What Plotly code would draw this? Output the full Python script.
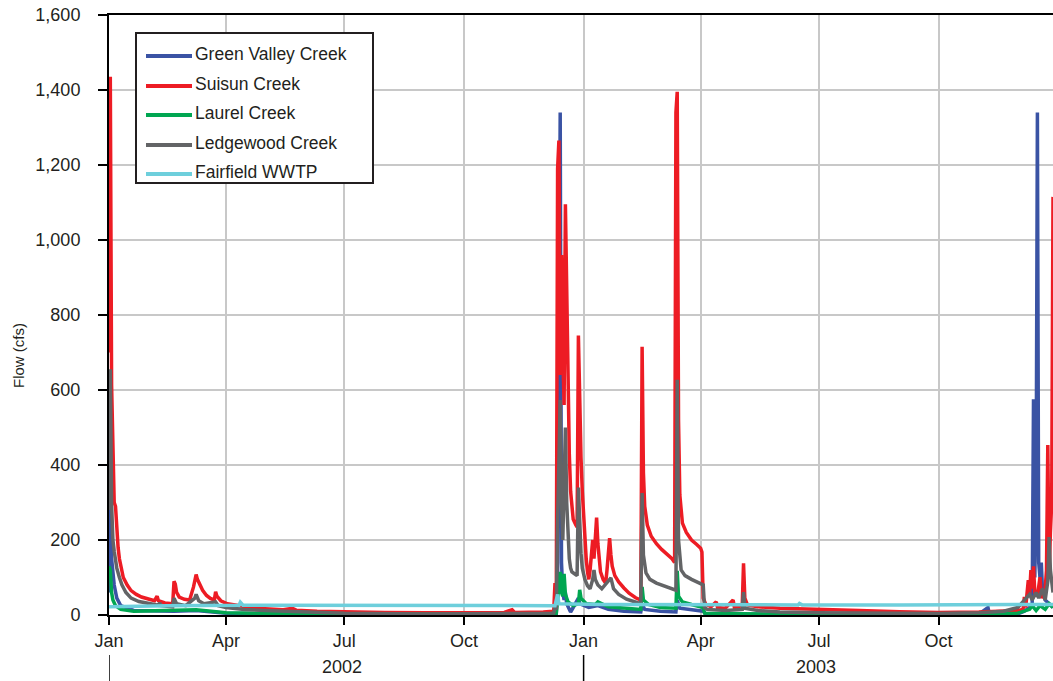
import plotly.graph_objects as go

# ---------------- data ----------------
gv_dates = ["2002-01-01","2002-01-02","2002-01-03","2002-01-04","2002-01-05","2002-01-07","2002-01-10","2002-01-20",
            "2002-02-20","2002-03-09","2002-04-01","2002-05-01","2002-07-01","2002-12-01","2002-12-11","2002-12-12",
            "2002-12-13","2002-12-14","2002-12-15","2002-12-16","2002-12-17","2002-12-18","2002-12-19","2002-12-21",
            "2002-12-22","2002-12-24","2002-12-28","2002-12-29","2003-01-05","2003-01-12","2003-01-20","2003-02-01",
            "2003-02-14","2003-02-15","2003-02-17","2003-03-01","2003-03-13","2003-03-14","2003-03-16","2003-04-03",
            "2003-04-05","2003-05-01","2003-11-01","2003-11-08","2003-11-09","2003-12-01","2003-12-06","2003-12-10",
            "2003-12-12","2003-12-13","2003-12-14","2003-12-15","2003-12-16","2003-12-17","2003-12-18","2003-12-19",
            "2003-12-20","2003-12-22","2003-12-25","2003-12-28"]
gv_flow = [60,300,150,120,80,45,25,12,
           10,12,5,3,1,1,3,100,
           600,1340,140,60,40,60,30,15,
           8,20,45,30,20,25,15,10,
           8,30,15,10,8,40,18,10,
           3,2,2,20,3,3,10,20,
           30,575,100,300,1340,140,100,140,
           60,40,30,20]

su_dates = ["2002-01-01","2002-01-02","2002-01-03","2002-01-04","2002-01-05","2002-01-06","2002-01-07","2002-01-08",
            "2002-01-09","2002-01-10","2002-01-12","2002-01-15","2002-01-18","2002-01-22","2002-01-26","2002-02-01",
            "2002-02-05","2002-02-07","2002-02-08","2002-02-13","2002-02-19","2002-02-20","2002-02-21","2002-02-22",
            "2002-02-24","2002-02-28","2002-03-04","2002-03-07","2002-03-09","2002-03-10","2002-03-12","2002-03-14",
            "2002-03-17","2002-03-20","2002-03-23","2002-03-24","2002-03-25","2002-03-28","2002-04-02","2002-04-10",
            "2002-04-20","2002-05-01","2002-05-15","2002-05-22","2002-05-25","2002-06-10","2002-07-01","2002-08-01",
            "2002-09-01","2002-10-01","2002-11-01","2002-11-07","2002-11-09","2002-12-01","2002-12-09","2002-12-10",
            "2002-12-11","2002-12-12","2002-12-13","2002-12-14","2002-12-15","2002-12-16","2002-12-17","2002-12-18",
            "2002-12-19","2002-12-20","2002-12-21","2002-12-22","2002-12-23","2002-12-24","2002-12-26","2002-12-27",
            "2002-12-28","2002-12-29","2002-12-30","2002-12-31","2003-01-01","2003-01-02","2003-01-03","2003-01-04",
            "2003-01-05","2003-01-06","2003-01-07","2003-01-08","2003-01-09","2003-01-10","2003-01-11","2003-01-12",
            "2003-01-13","2003-01-14","2003-01-16","2003-01-18","2003-01-19","2003-01-20","2003-01-21","2003-01-22",
            "2003-01-23","2003-01-25","2003-01-28","2003-02-01","2003-02-05","2003-02-10","2003-02-14","2003-02-15",
            "2003-02-16","2003-02-17","2003-02-19","2003-02-22","2003-02-26","2003-03-02","2003-03-06","2003-03-10",
            "2003-03-12","2003-03-13","2003-03-14","2003-03-15","2003-03-16","2003-03-18","2003-03-21","2003-03-25",
            "2003-03-29","2003-04-01","2003-04-02","2003-04-03","2003-04-05","2003-04-09","2003-04-13","2003-04-14",
            "2003-04-20","2003-04-26","2003-04-27","2003-05-03","2003-05-04","2003-05-05","2003-05-07","2003-05-15",
            "2003-06-01","2003-07-01","2003-08-01","2003-09-01","2003-10-01","2003-11-01","2003-11-20","2003-12-01",
            "2003-12-05","2003-12-06","2003-12-07","2003-12-09","2003-12-10","2003-12-11","2003-12-12","2003-12-13",
            "2003-12-14","2003-12-16","2003-12-18","2003-12-19","2003-12-22","2003-12-23","2003-12-24","2003-12-25",
            "2003-12-26","2003-12-27","2003-12-28"]
su_flow = [700,1435,612,445,300,290,226,180,
           150,130,100,80,65,55,48,42,
           38,50,38,32,30,90,82,60,
           48,42,40,75,108,95,80,66,
           52,44,40,62,50,38,30,25,
           20,17,14,18,13,10,8,7,
           6,6,7,14,7,8,10,85,
           40,1190,1265,640,960,700,560,1095,
           860,600,430,330,280,255,240,235,
           745,560,420,330,260,200,150,115,
           95,120,175,200,150,200,260,190,
           140,115,95,85,120,160,205,160,
           130,105,88,72,58,46,40,715,
           380,290,240,210,190,175,163,150,
           140,1340,1395,520,320,245,220,200,
           188,178,168,45,28,22,35,20,
           18,40,20,25,138,45,27,22,
           18,14,12,9,7,8,10,12,
           15,48,20,93,55,120,70,130,
           60,50,101,45,70,120,453,110,
           220,300,1115]

la_dates = ["2002-01-01","2002-01-02","2002-01-03","2002-01-04","2002-01-06","2002-01-10","2002-01-20","2002-02-20",
            "2002-03-09","2002-04-01","2002-05-01","2002-06-01","2002-12-01","2002-12-11","2002-12-12","2002-12-13",
            "2002-12-14","2002-12-15","2002-12-16","2002-12-17","2002-12-18","2002-12-20","2002-12-24","2002-12-28",
            "2002-12-29","2002-12-30","2003-01-03","2003-01-10","2003-01-12","2003-01-20","2003-02-01","2003-02-14",
            "2003-02-15","2003-02-16","2003-02-20","2003-03-01","2003-03-13","2003-03-14","2003-03-15","2003-03-18",
            "2003-03-25","2003-04-03","2003-04-04","2003-05-01","2003-06-01","2003-11-01","2003-12-01","2003-12-10",
            "2003-12-12","2003-12-15","2003-12-18","2003-12-22","2003-12-25","2003-12-28"]
la_flow = [130,120,60,40,25,15,10,12,
           14,6,4,2,2,5,40,80,
           115,60,50,110,55,35,25,30,
           67,45,30,28,35,22,18,15,
           75,40,28,20,18,118,50,35,
           28,20,5,4,2,2,5,15,
           25,12,25,15,30,20]

le_dates = ["2002-01-01","2002-01-02","2002-01-03","2002-01-04","2002-01-05","2002-01-06","2002-01-07","2002-01-09",
            "2002-01-11","2002-01-14","2002-01-18","2002-01-24","2002-02-01","2002-02-08","2002-02-09","2002-02-10",
            "2002-02-19","2002-02-20","2002-02-22","2002-03-01","2002-03-08","2002-03-09","2002-03-11","2002-03-15",
            "2002-03-24","2002-03-26","2002-04-01","2002-04-15","2002-05-01","2002-06-01","2002-07-01","2002-09-01",
            "2002-11-01","2002-12-01","2002-12-09","2002-12-10","2002-12-11","2002-12-12","2002-12-13","2002-12-14",
            "2002-12-15","2002-12-16","2002-12-17","2002-12-18","2002-12-19","2002-12-20","2002-12-21","2002-12-22",
            "2002-12-23","2002-12-25","2002-12-27","2002-12-28","2002-12-29","2002-12-30","2002-12-31","2003-01-02",
            "2003-01-04","2003-01-06","2003-01-08","2003-01-09","2003-01-10","2003-01-12","2003-01-15","2003-01-22",
            "2003-01-24","2003-01-28","2003-02-03","2003-02-10","2003-02-14","2003-02-15","2003-02-16","2003-02-18",
            "2003-02-21","2003-02-26","2003-03-05","2003-03-13","2003-03-14","2003-03-15","2003-03-17","2003-03-20",
            "2003-03-25","2003-03-31","2003-04-03","2003-04-04","2003-04-06","2003-04-20","2003-05-03","2003-05-04",
            "2003-05-05","2003-05-15","2003-06-01","2003-07-01","2003-09-01","2003-10-01","2003-11-01","2003-11-20",
            "2003-12-01","2003-12-05","2003-12-10","2003-12-12","2003-12-15","2003-12-17","2003-12-20","2003-12-22",
            "2003-12-24","2003-12-25","2003-12-26","2003-12-28"]
le_flow = [280,655,295,200,170,150,125,100,
           80,60,45,36,30,26,32,25,
           22,45,30,25,45,55,38,30,
           35,25,20,15,12,8,5,3,
           3,4,5,20,15,250,400,573,
           300,200,350,500,300,190,150,125,
           115,110,105,340,245,165,125,95,
           78,70,95,120,95,80,70,99,
           70,55,42,34,30,325,160,112,
           95,85,75,66,627,200,120,105,
           95,85,80,20,15,12,15,61,
           18,12,8,6,4,4,6,10,
           20,35,55,40,60,45,70,40,
           90,208,120,60]

ff_dates = ["2002-01-01","2002-02-15","2002-04-11","2002-04-12","2002-04-14","2002-07-01","2002-10-01","2002-12-10",
            "2002-12-12","2002-12-13","2003-01-15","2003-04-01","2003-06-15","2003-06-16","2003-06-18","2003-09-01",
            "2003-12-01","2003-12-28"]
ff_flow = [22,25,26,34,26,25,25,25,
           55,30,28,27,27,31,27,27,
           28,28]

series_names = ["Green Valley Creek", "Suisun Creek", "Laurel Creek", "Ledgewood Creek", "Fairfield WWTP"]
series_colors = ["#3A53A4", "#ED1C24", "#00A651", "#636466", "#6ECFDC"]

month_ticks = ["2002-01-01","2002-04-01","2002-07-01","2002-10-01",
               "2003-01-01","2003-04-01","2003-07-01","2003-10-01"]
month_labels = ["Jan","Apr","Jul","Oct","Jan","Apr","Jul","Oct"]
year_labels = ["2002", "2003"]
year_centers = ["2002-06-29", "2003-06-29"]
year_starts = ["2002-01-01", "2003-01-01"]

# ---------------- figure ----------------
W, H = 1053, 681
L, R, T, B = 109, 0, 15, 66
PW, PH = W - L - R, H - T - B

def px(x):   # pixel x -> paper
    return (x - L) / PW

def py(y):   # pixel y -> paper
    return (H - B - y) / PH

fig = go.Figure()
all_data = [(gv_dates, gv_flow), (su_dates, su_flow), (la_dates, la_flow),
            (le_dates, le_flow), (ff_dates, ff_flow)]
for (d, v), name, col in zip(all_data, series_names, series_colors):
    fig.add_trace(go.Scatter(x=d, y=v, mode="lines", name=name,
                             line=dict(color=col, width=3.5), showlegend=False))

font_fam = "Liberation Sans, Arial, sans-serif"
txt = "#231F20"

fig.update_layout(
    width=W, height=H,
    margin=dict(l=L, r=R, t=T, b=B),
    paper_bgcolor="white", plot_bgcolor="white",
    font=dict(family=font_fam, color=txt, size=18),
    showlegend=False,
    xaxis=dict(
        type="date", range=["2002-01-01", "2003-12-28"],
        tickmode="array", tickvals=month_ticks, ticktext=month_labels,
        ticks="outside", ticklen=8, tickwidth=1.5, tickcolor="black",
        showline=True, linecolor="black", linewidth=2, mirror=True,
        showgrid=True, gridcolor="#C8C8C8", gridwidth=2,
        tickfont=dict(size=18, color=txt), zeroline=False,
    ),
    yaxis=dict(
        range=[0, 1600], tickmode="array", tickvals=[0,200,400,600,800,1000,1200,1400,1600],
        tickformat=",d",
        ticks="outside", ticklen=9, tickwidth=1.5, tickcolor="black",
        showline=True, linecolor="black", linewidth=2,
        showgrid=True, gridcolor="#C8C8C8", gridwidth=2,
        tickfont=dict(size=18, color=txt), zeroline=False,
        ticklabelstandoff=14,
    ),
)

# year labels and separators
for lab, xc in zip(year_labels, year_centers):
    fig.add_annotation(x=xc, xref="x", y=py(667), yref="paper", text=lab, showarrow=False,
                       font=dict(size=18, color=txt), xanchor="center", yanchor="middle")
for xs in year_starts:
    fig.add_shape(type="line", xref="x", yref="paper", x0=xs, x1=xs, y0=py(655), y1=py(681),
                  line=dict(color="black", width=1.5))

# axis title
fig.add_annotation(x=px(18), xref="paper", y=py(356), yref="paper", text="Flow (cfs)",
                   textangle=-90, showarrow=False, font=dict(size=15, color=txt),
                   xanchor="center", yanchor="middle")

# legend box
fig.add_shape(type="rect", xref="paper", yref="paper", x0=px(136), x1=px(373), y0=py(183), y1=py(33),
              line=dict(color="#231F20", width=2), fillcolor="white", layer="above")
leg_y = [56, 86, 115, 145, 174]
for name, col, yy in zip(series_names, series_colors, leg_y):
    fig.add_shape(type="line", xref="paper", yref="paper", x0=px(146), x1=px(192), y0=py(yy), y1=py(yy),
                  line=dict(color=col, width=4), layer="above")
    fig.add_annotation(x=px(193), xref="paper", y=py(yy - 2), yref="paper", text=name, showarrow=False,
                       font=dict(size=17.5, color=txt), xanchor="left", yanchor="middle")

fig.write_html("out.html")
